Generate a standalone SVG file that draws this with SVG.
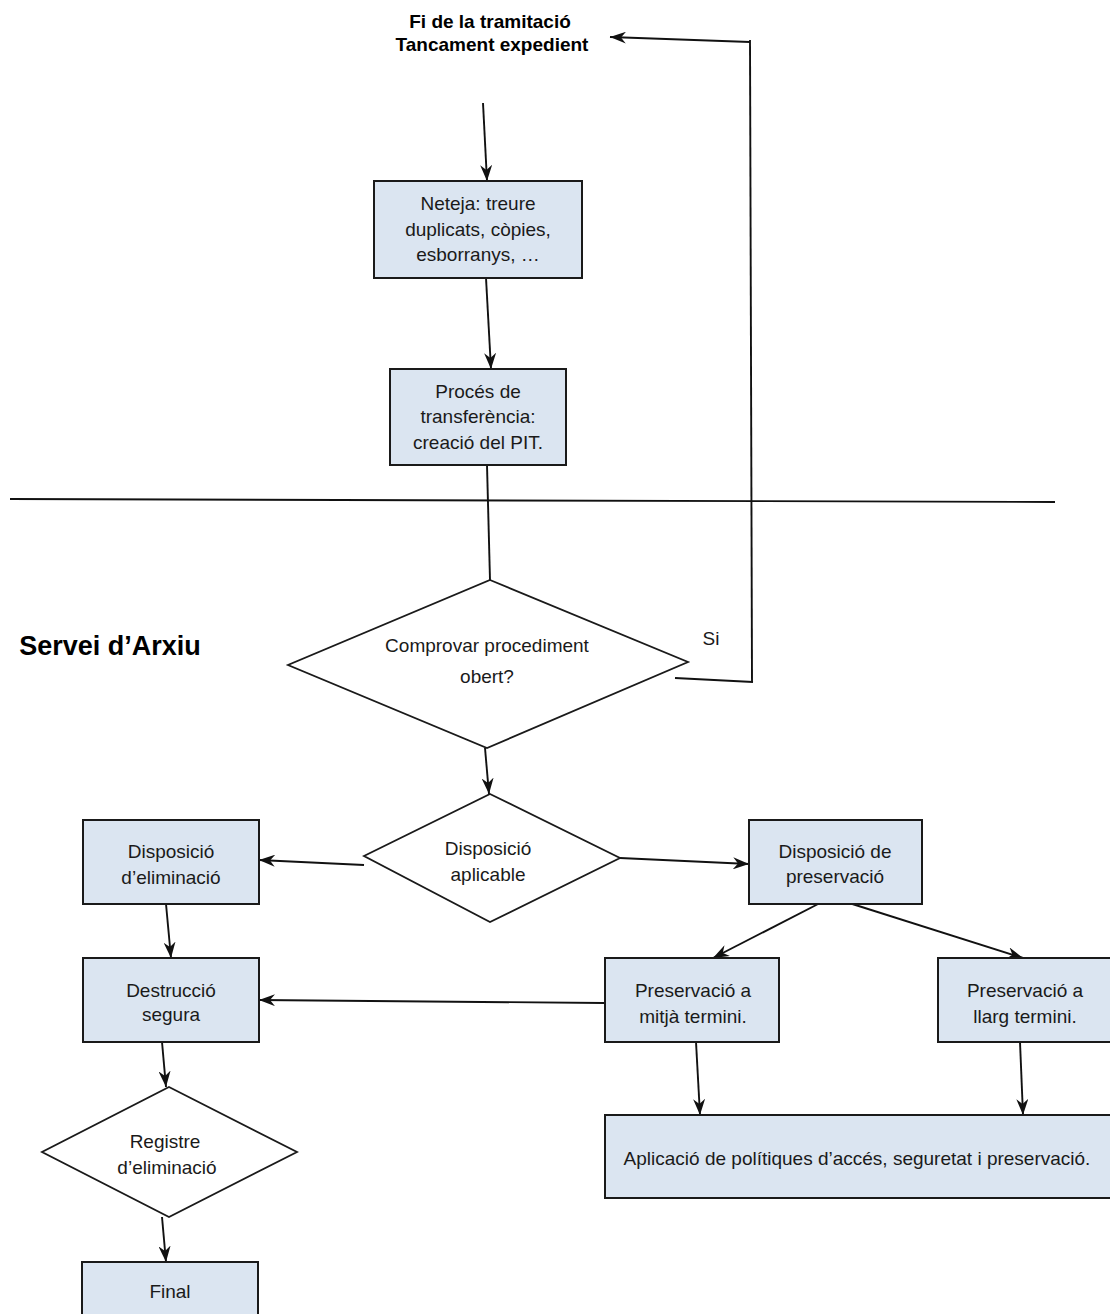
<svg xmlns="http://www.w3.org/2000/svg" width="1110" height="1314" viewBox="0 0 1110 1314">
<style>
.box{fill:#dbe5f1;stroke:#1a1a1a;stroke-width:2}
.dia{fill:#ffffff;stroke:#1a1a1a;stroke-width:1.8}
.ln{fill:none;stroke:#111;stroke-width:1.9}
.ar{fill:none;stroke:#111;stroke-width:1.9;marker-end:url(#ah)}
text{font-family:"Liberation Sans",Arial,sans-serif;font-size:19px;fill:#1a1a1a;text-anchor:middle}
.b{font-weight:bold;fill:#000}
</style>
<defs>
<marker id="ah" viewBox="0 0 16 12" refX="16" refY="6" markerWidth="16" markerHeight="12" markerUnits="userSpaceOnUse" orient="auto">
<path d="M0,0 L16,6 L0,12 L5,6 z" fill="#111"/>
</marker>
</defs>
<rect width="1110" height="1314" fill="#ffffff"/>

<g id="connectors">
<line class="ar" x1="750" y1="42" x2="610" y2="37"/>
<line class="ln" x1="750" y1="40" x2="752" y2="681"/>
<line class="ln" x1="675" y1="678" x2="753" y2="682"/>
<line class="ar" x1="483" y1="103" x2="487" y2="181"/>
<line class="ar" x1="486" y1="278" x2="491" y2="369"/>
<line class="ln" x1="487" y1="465" x2="490" y2="580"/>
<line class="ln" x1="10" y1="499" x2="1055" y2="502"/>
<line class="ar" x1="485" y1="748" x2="489" y2="794"/>
<line class="ar" x1="364" y1="865" x2="259" y2="860"/>
<line class="ar" x1="620" y1="858" x2="749" y2="864"/>
<line class="ar" x1="166" y1="904" x2="171" y2="958"/>
<line class="ar" x1="604" y1="1003" x2="259" y2="1000"/>
<line class="ar" x1="822" y1="902" x2="713" y2="958"/>
<line class="ar" x1="846" y1="902" x2="1023" y2="958"/>
<line class="ar" x1="696" y1="1042" x2="700" y2="1115"/>
<line class="ar" x1="1020" y1="1042" x2="1023" y2="1115"/>
<line class="ar" x1="162" y1="1042" x2="166" y2="1087"/>
<line class="ar" x1="162" y1="1217" x2="166" y2="1262"/>
</g>

<g id="title">
<text class="b" x="490" y="28">Fi de la tramitació</text>
<text class="b" x="492" y="51">Tancament expedient</text>
</g>

<g id="lane-label">
<text class="b" x="110" y="655" style="font-size:27px">Servei d’Arxiu</text>
</g>

<g id="neteja">
<rect class="box" x="374" y="181" width="208" height="97"/>
<text x="478" y="210">Neteja: treure</text>
<text x="478" y="236">duplicats, còpies,</text>
<text x="478" y="261">esborranys, …</text>
</g>

<g id="proces">
<rect class="box" x="390" y="369" width="176" height="96"/>
<text x="478" y="398">Procés de</text>
<text x="478" y="423">transferència:</text>
<text x="478" y="449">creació del PIT.</text>
</g>

<g id="comprovar">
<polygon class="dia" points="490,580 688,662 487,748 288,665"/>
<text x="487" y="652">Comprovar procediment</text>
<text x="487" y="683">obert?</text>
</g>

<g id="si">
<text x="711" y="645">Si</text>
</g>

<g id="aplicable">
<polygon class="dia" points="490,794 620,858 490,922 364,856"/>
<text x="488" y="855">Disposició</text>
<text x="488" y="881">aplicable</text>
</g>

<g id="eliminacio">
<rect class="box" x="83" y="820" width="176" height="84"/>
<text x="171" y="858">Disposició</text>
<text x="171" y="884">d’eliminació</text>
</g>

<g id="preservacio">
<rect class="box" x="749" y="820" width="173" height="84"/>
<text x="835" y="858">Disposició de</text>
<text x="835" y="883">preservació</text>
</g>

<g id="destruccio">
<rect class="box" x="83" y="958" width="176" height="84"/>
<text x="171" y="997">Destrucció</text>
<text x="171" y="1021">segura</text>
</g>

<g id="mitja">
<rect class="box" x="605" y="958" width="174" height="84"/>
<text x="693" y="997">Preservació a</text>
<text x="693" y="1023">mitjà termini.</text>
</g>

<g id="llarg">
<rect class="box" x="938" y="958" width="174" height="84"/>
<text x="1025" y="997">Preservació a</text>
<text x="1025" y="1023">llarg termini.</text>
</g>

<g id="politiques">
<rect class="box" x="605" y="1115" width="507" height="83"/>
<text x="857" y="1165">Aplicació de polítiques d’accés, seguretat i preservació.</text>
</g>

<g id="registre">
<polygon class="dia" points="169,1087 297,1152 169,1217 42,1152"/>
<text x="165" y="1148">Registre</text>
<text x="167" y="1174">d’eliminació</text>
</g>

<g id="final">
<rect class="box" x="82" y="1262" width="176" height="60"/>
<text x="170" y="1298">Final</text>
</g>
</svg>
